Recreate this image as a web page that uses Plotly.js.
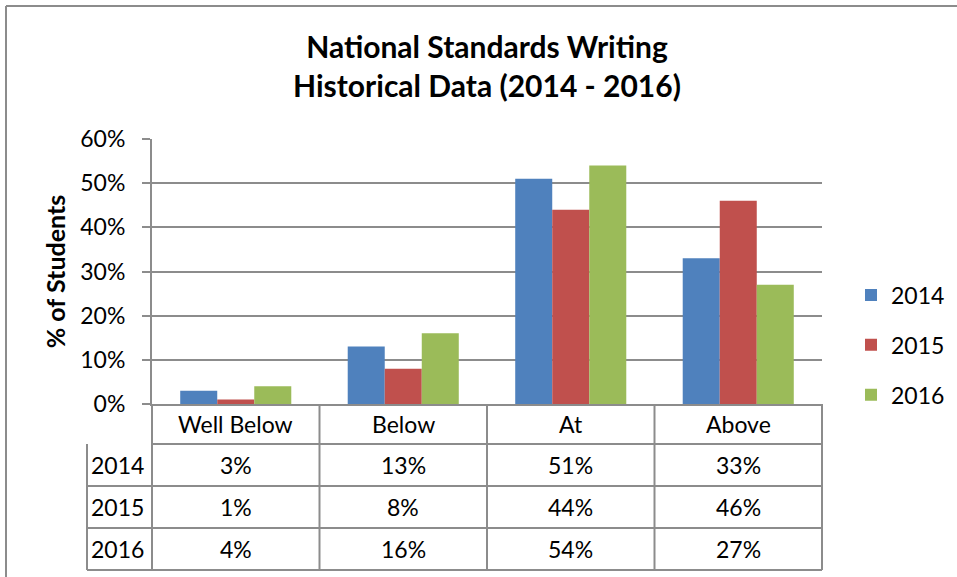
<!DOCTYPE html>
<html>
<head>
<meta charset="utf-8">
<script src="https://cdn.plot.ly/plotly-3.0.1.min.js"></script>
<style>html,body{margin:0;padding:0;background:#fff;}#chart{width:957px;height:577px;}</style>
</head>
<body>
<div id="chart"></div>
<script>
// ---- data ----
const categories = ["Well Below", "Below", "At", "Above"];
const seriesNames = ["2014", "2015", "2016"];
const values2014 = [0.03, 0.13, 0.51, 0.33];
const values2015 = [0.01, 0.08, 0.44, 0.46];
const values2016 = [0.04, 0.16, 0.54, 0.27];
const yTickVals = [0, 0.1, 0.2, 0.3, 0.4, 0.5, 0.6];
const titleLines = ["National Standards Writing", "Historical Data (2014 - 2016)"];
const yTitle = "% of Students";

// ---- styling / geometry ----
const W = 957, H = 577;
const L = 152, R = 822, T = 139, B = 404;
const colors = ["#4F81BD", "#C0504D", "#9BBB59"];
const lineColor = "#8c8c8c";
const font = "Lato, 'Open Sans', sans-serif";
const fs = 23;
const pw = R - L, ph = B - T;
const px = p => (p - L) / pw;
const py = p => (B - p) / ph;

const allValues = [values2014, values2015, values2016];
const traces = allValues.map((v, i) => ({
  type: "bar",
  name: seriesNames[i],
  x: categories,
  y: v,
  marker: { color: colors[i], line: { width: 0 } },
  legendgroup: seriesNames[i],
  hoverinfo: "none"
}));

const shapes = [];
const annotations = [];
const hline = (x0, x1, y) => shapes.push({ type: "line", xref: "paper", yref: "paper", x0: px(x0), x1: px(x1), y0: py(y), y1: py(y), line: { color: lineColor, width: 2 } });
const vline = (x, y0, y1) => shapes.push({ type: "line", xref: "paper", yref: "paper", x0: px(x), x1: px(x), y0: py(y0), y1: py(y1), line: { color: lineColor, width: 2 } });

// outer chart border
hline(6, W + 5, 6);
vline(6, 6, H + 5);

// data table
const rowY = [404, 444, 486, 528, 570];
const leftX = 87;
const colW = pw / categories.length;
hline(L, R, rowY[1]);
for (let r = 2; r < rowY.length; r++) hline(leftX, R, rowY[r]);
vline(leftX, rowY[1], rowY[4]);
for (let c = 0; c <= categories.length; c++) vline(L + c * colW, rowY[0], rowY[4]);

const cellFont = { family: font, size: fs, color: "#000" };
categories.forEach((cat, c) => {
  annotations.push({ xref: "x", yref: "paper", x: cat, y: py((rowY[0] + rowY[1]) / 2), text: cat, showarrow: false, font: cellFont, xanchor: "center", yanchor: "middle" });
});
allValues.forEach((vals, r) => {
  const yc = (rowY[r + 1] + rowY[r + 2]) / 2;
  annotations.push({ xref: "paper", yref: "paper", x: px(leftX + 2), y: py(yc), text: seriesNames[r], showarrow: false, font: cellFont, xanchor: "left", yanchor: "middle" });
  vals.forEach((v, c) => {
    annotations.push({ xref: "x", yref: "paper", x: categories[c], y: py(yc), text: Math.round(v * 100) + "%", showarrow: false, font: cellFont, xanchor: "center", yanchor: "middle" });
  });
});

const layout = {
  width: W, height: H,
  margin: { l: L, r: W - R, t: T, b: H - B, pad: 0 },
  paper_bgcolor: "#fff", plot_bgcolor: "#fff",
  font: { family: font, size: fs, color: "#000" },
  title: {
    text: titleLines.join("<br>"),
    font: { family: font, size: 30, color: "#000", weight: "bold" },
    x: 487 / W, xanchor: "center", xref: "container",
    y: 1 - 58 / H, yanchor: "middle", yref: "container"
  },
  barmode: "group",
  bargap: 0.337,
  bargroupgap: 0,
  showlegend: true,
  legend: {
    xref: "container", yref: "container",
    x: 851 / W, xanchor: "left", y: 1 - 345 / H, yanchor: "middle",
    font: { family: font, size: fs, color: "#000" },
    tracegroupgap: 17, itemwidth: 30,
    bgcolor: "rgba(0,0,0,0)"
  },
  xaxis: {
    type: "category", showticklabels: false, ticks: "",
    showgrid: false, zeroline: false,
    showline: true, linecolor: lineColor, linewidth: 2,
    fixedrange: true
  },
  yaxis: {
    range: [0, 0.6], tickvals: yTickVals, tickformat: ".0%",
    showgrid: true, gridcolor: lineColor, gridwidth: 2,
    zeroline: false, showline: true, linecolor: lineColor, linewidth: 2,
    ticks: "outside", ticklen: 8, tickwidth: 2, tickcolor: lineColor,
    ticklabelstandoff: 12,
    tickfont: { family: font, size: fs, color: "#000" },
    title: { text: yTitle, font: { family: font, size: 25, color: "#000", weight: "bold" }, standoff: 8 },
    automargin: false,
    fixedrange: true
  },
  shapes: shapes,
  annotations: annotations
};

Plotly.newPlot("chart", traces, layout, { displayModeBar: false, staticPlot: true });
</script>
</body>
</html>
